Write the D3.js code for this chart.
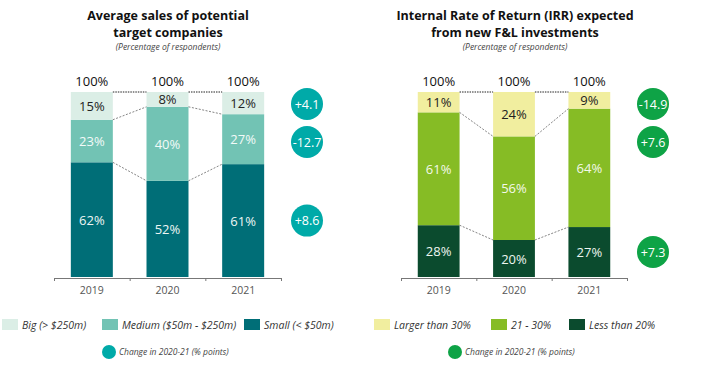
<!DOCTYPE html>
<html>
<head>
<meta charset="utf-8">
<script src="https://cdn.jsdelivr.net/npm/d3@7"></script>
<style>
  body { margin: 0; background: #fff; }
  svg { font-family: "Open Sans", sans-serif; }
</style>
</head>
<body>
<svg width="715" height="370"></svg>
<script>
// data
let years = ["2019", "2020", "2021"];

let salesKeys = ["small", "medium", "big"];
let salesSmall = [62, 52, 61];
let salesMedium = [23, 40, 27];
let salesBig = [15, 8, 12];
let salesChange = ["+4.1", "-12.7", "+8.6"];   // big, medium, small
let salesLegend = ["Big (> $250m)", "Medium ($50m - $250m)", "Small (< $50m)"];

let irrKeys = ["low", "mid", "high"];
let irrLow = [28, 20, 27];
let irrMid = [61, 56, 64];
let irrHigh = [11, 24, 9];
let irrChange = ["-14.9", "+7.6", "+7.3"];     // high, mid, low
let irrLegend = ["Larger than 30%", "21 - 30%", "Less than 20%"];

let totals = ["100%", "100%", "100%"];

/***************************/

let svg = d3.select("svg");

let yScale = d3.scaleLinear().domain([0, 100]).range([277, 92]);

function drawPanel(opt) {
  let rows = years.map((y, i) => {
    let r = {year: y};
    opt.keys.forEach((k, j) => r[k] = opt.series[j][i]);
    return r;
  });
  let stacked = d3.stack().keys(opt.keys)(rows);

  let xScale = d3.scaleBand()
    .domain(years)
    .range(opt.range)
    .paddingInner(0.445)
    .paddingOuter(0.2225);

  let g = svg.append("g");

  // title
  g.selectAll(".title")
    .data(opt.title)
    .join("text")
    .attr("x", opt.center)
    .attr("y", (d, i) => 19.5 + i * 17)
    .attr("text-anchor", "middle")
    .attr("font-size", 12.5)
    .attr("font-weight", 700)
    .attr("fill", "#111")
    .text(d => d);
  g.append("text")
    .attr("x", opt.center)
    .attr("y", 50)
    .attr("text-anchor", "middle")
    .attr("font-size", 8.5)
    .attr("font-style", "italic")
    .attr("fill", "#444")
    .text("(Percentage of respondents)");

  // bars
  let layers = g.selectAll(".layer")
    .data(stacked)
    .join("g")
    .attr("fill", (d, i) => opt.colors[i]);
  layers.selectAll("rect")
    .data(d => d)
    .join("rect")
    .attr("x", d => xScale(d.data.year))
    .attr("width", xScale.bandwidth())
    .attr("y", d => yScale(d[1]))
    .attr("height", d => yScale(d[0]) - yScale(d[1]));

  // value labels
  stacked.forEach((layer, li) => {
    g.selectAll(".lbl" + li)
      .data(layer)
      .join("text")
      .attr("x", d => xScale(d.data.year) + xScale.bandwidth() / 2)
      .attr("y", d => yScale((d[0] + d[1]) / 2) + 5)
      .attr("text-anchor", "middle")
      .attr("font-size", 13)
      .attr("fill", opt.labelColors[li])
      .text(d => (d[1] - d[0]) + "%");
  });

  // totals
  g.selectAll(".total")
    .data(years)
    .join("text")
    .attr("x", d => xScale(d) + xScale.bandwidth() / 2)
    .attr("y", yScale(100) - 6)
    .attr("text-anchor", "middle")
    .attr("font-size", 13)
    .attr("fill", "#111")
    .text((d, i) => totals[i]);

  // connectors between bars
  let bounds = stacked.map(l => l.map(d => d[1]));
  bounds.forEach((b, bi) => {
    for (let i = 0; i < years.length - 1; i++) {
      let top = bi === bounds.length - 1;
      g.append("line")
        .attr("x1", xScale(years[i]) + xScale.bandwidth())
        .attr("x2", xScale(years[i + 1]))
        .attr("y1", yScale(b[i]))
        .attr("y2", yScale(b[i + 1]))
        .attr("stroke", top ? "#222" : "#666")
        .attr("stroke-width", top ? 1 : 0.8)
        .attr("stroke-dasharray", top ? "1.5,1" : "2,1.5");
    }
  });

  // axis: ticks at band edges, labels at centres
  let edges = d3.range(years.length + 1).map(i => opt.range[0] + i * xScale.step());
  let axisG = g.append("g")
    .attr("transform", `translate(0, ${yScale(0) + 1})`)
    .call(d3.axisBottom(d3.scaleLinear().domain(opt.range).range(opt.range))
      .tickValues(edges).tickFormat("").tickSize(3).tickSizeOuter(0));
  axisG.selectAll("line, path").attr("stroke", "#777");
  g.selectAll(".yr")
    .data(years)
    .join("text")
    .attr("x", d => xScale(d) + xScale.bandwidth() / 2)
    .attr("y", yScale(0) + 17)
    .attr("text-anchor", "middle")
    .attr("font-size", 10.5)
    .attr("fill", "#555")
    .text(d => d);

  // change circles (top to bottom)
  let last = stacked.map(l => l[l.length - 1]).reverse();
  let cx = opt.range[1] + 26;
  let cy = (i) => i < 2 ? yScale(100) + 12 + i * 38 : yScale((last[i][0] + last[i][1]) / 2);
  g.selectAll(".chg")
    .data(opt.change)
    .join("circle")
    .attr("cx", cx)
    .attr("cy", (d, i) => cy(i))
    .attr("r", 16)
    .attr("fill", opt.circle);
  g.selectAll(".chgt")
    .data(opt.change)
    .join("text")
    .attr("x", cx)
    .attr("y", (d, i) => cy(i) + 4.5)
    .attr("text-anchor", "middle")
    .attr("font-size", 12.5)
    .attr("fill", "#fff")
    .text(d => d);

  // legend
  let leg = g.selectAll(".leg")
    .data(opt.legend)
    .join("g")
    .attr("transform", (d, i) => `translate(${opt.legendX[i]}, 319)`);
  leg.append("rect")
    .attr("width", 16).attr("height", 11)
    .attr("fill", (d, i) => opt.colors[opt.colors.length - 1 - i]);
  leg.append("text")
    .attr("x", 20).attr("y", 9.5)
    .attr("font-size", 10.5)
    .attr("font-style", "italic")
    .attr("fill", "#333")
    .text(d => d);

  g.append("circle")
    .attr("cx", opt.circleLegX).attr("cy", 352).attr("r", 7)
    .attr("fill", opt.circle);
  g.append("text")
    .attr("x", opt.circleLegX + 10).attr("y", 355)
    .attr("font-size", 8.5)
    .attr("font-style", "italic")
    .attr("fill", "#444")
    .text("Change in 2020-21 (% points)");
}

drawPanel({
  title: ["Average sales of potential", "target companies"],
  center: 168,
  keys: salesKeys,
  series: [salesSmall, salesMedium, salesBig],
  colors: ["#006e77", "#72c3b4", "#dbeee6"],
  labelColors: ["#eef6f4", "#f2faf8", "#222"],
  range: [54, 281],
  change: salesChange,
  circle: "#00aaa8",
  legend: salesLegend,
  legendX: [2, 102, 244],
  circleLegX: 109
});

drawPanel({
  title: ["Internal Rate of Return (IRR) expected", "from new F&L investments"],
  center: 515,
  keys: irrKeys,
  series: [irrLow, irrMid, irrHigh],
  colors: ["#0b4b2e", "#86bc25", "#f1ee9f"],
  labelColors: ["#eef6f0", "#f4f9ea", "#222"],
  range: [401, 627],
  change: irrChange,
  circle: "#0ea346",
  legend: irrLegend,
  legendX: [374, 491, 569],
  circleLegX: 455
});
</script>
</body>
</html>
